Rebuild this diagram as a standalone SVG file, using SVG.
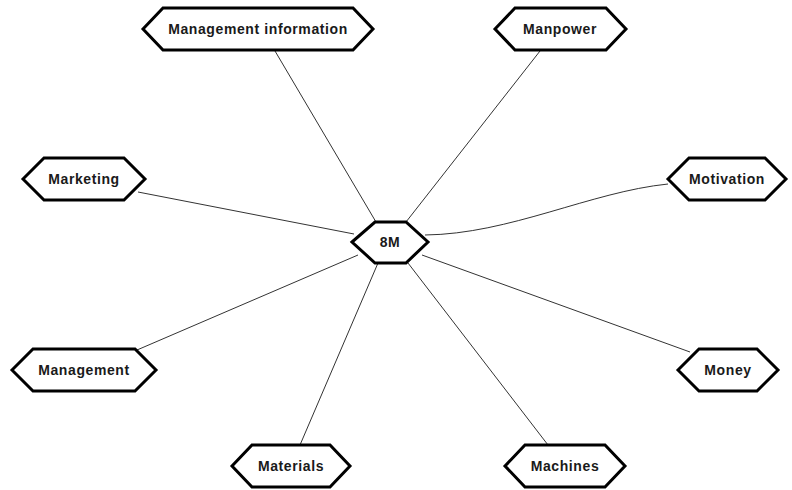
<svg xmlns="http://www.w3.org/2000/svg" width="792" height="490" viewBox="0 0 792 490">
  <style>
    .hex { fill: #ffffff; stroke: #000000; stroke-width: 3; stroke-linejoin: miter; }
    .lbl { font-family: "Liberation Sans", Arial, sans-serif; font-size: 14px; font-weight: bold; fill: #1a1a1a; text-anchor: middle; letter-spacing: 0.6px; }
    .edge { fill: none; stroke: #333333; stroke-width: 1; }
  </style>
  <rect width="792" height="490" fill="#ffffff"/>

  <g id="connectors">
    <line class="edge" x1="275" y1="51" x2="376" y2="222"/>
    <line class="edge" x1="540" y1="51" x2="406" y2="222"/>
    <line class="edge" x1="138" y1="192" x2="354" y2="234"/>
    <path class="edge" d="M 425 235 C 510 234, 590 192, 668 184"/>
    <line class="edge" x1="137" y1="350" x2="358" y2="255"/>
    <line class="edge" x1="300" y1="445" x2="378" y2="263"/>
    <line class="edge" x1="548" y1="445" x2="408" y2="263"/>
    <line class="edge" x1="690" y1="352" x2="422" y2="255"/>
  </g>

  <g id="node-8m">
    <polygon class="hex" points="352,242 375,222 406,222 428,242 406,263 375,263"/>
    <text class="lbl" x="390" y="247">8M</text>
  </g>

  <g id="node-management-information">
    <polygon class="hex" points="143,29 163,8 353,8 373,29 353,50 163,50"/>
    <text class="lbl" x="258" y="34">Management information</text>
  </g>

  <g id="node-manpower">
    <polygon class="hex" points="495,29 515,8 606,8 626,29 606,50 515,50"/>
    <text class="lbl" x="560" y="34">Manpower</text>
  </g>

  <g id="node-marketing">
    <polygon class="hex" points="23,179 44,158 124,158 145,179 124,200 44,200"/>
    <text class="lbl" x="84" y="184">Marketing</text>
  </g>

  <g id="node-motivation">
    <polygon class="hex" points="668,179 689,158 765,158 786,179 765,200 689,200"/>
    <text class="lbl" x="727" y="184">Motivation</text>
  </g>

  <g id="node-management">
    <polygon class="hex" points="12,370 33,349 135,349 156,370 135,391 33,391"/>
    <text class="lbl" x="84" y="375">Management</text>
  </g>

  <g id="node-money">
    <polygon class="hex" points="678,370 699,349 757,349 778,370 757,391 699,391"/>
    <text class="lbl" x="728" y="375">Money</text>
  </g>

  <g id="node-materials">
    <polygon class="hex" points="232,466 252,445 330,445 350,466 330,487 252,487"/>
    <text class="lbl" x="291" y="471">Materials</text>
  </g>

  <g id="node-machines">
    <polygon class="hex" points="505,466 525,445 605,445 625,466 605,487 525,487"/>
    <text class="lbl" x="565" y="471">Machines</text>
  </g>
</svg>
